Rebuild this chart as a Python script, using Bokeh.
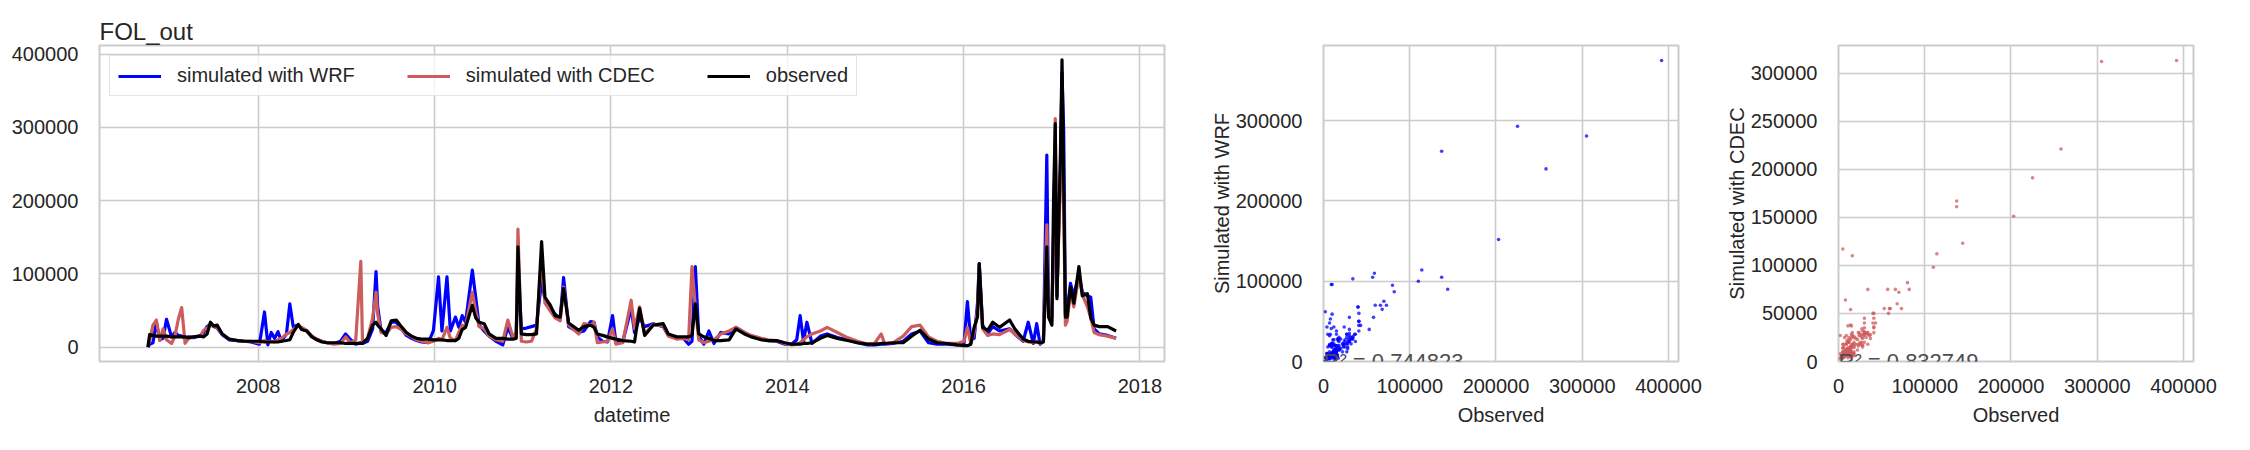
import pandas as pd
from bokeh.plotting import figure
from bokeh.layouts import row
from bokeh.models import Range1d, FixedTicker, DatetimeTickFormatter, BasicTickFormatter
from bokeh.core.properties import value
from bokeh.embed import file_html
from bokeh.resources import INLINE

FONT = "Liberation Sans"
GRID = "#cccccc"
TXT = "#262626"

# flows, in thousands (one line per water year)
dates = [
    "2006-10-01", "2006-10-08", "2006-10-22", "2006-11-05", "2006-11-19", "2006-12-03", "2006-12-17", "2007-01-07", "2007-01-21", "2007-02-04", "2007-02-18", "2007-03-04", "2007-03-18", "2007-04-08", "2007-05-06", "2007-05-20", "2007-06-03", "2007-06-17", "2007-07-01", "2007-07-15", "2007-08-05", "2007-09-02",
    "2007-10-07", "2007-11-04", "2007-12-02", "2008-01-06", "2008-01-27", "2008-02-10", "2008-02-24", "2008-03-09", "2008-03-23", "2008-04-06", "2008-04-27", "2008-05-11", "2008-05-25", "2008-06-15", "2008-06-29", "2008-07-20", "2008-08-10", "2008-08-31", "2008-09-21",
    "2008-10-12", "2008-11-09", "2008-12-07", "2008-12-28", "2009-01-18", "2009-02-08", "2009-03-01", "2009-03-08", "2009-03-29", "2009-04-19", "2009-05-03", "2009-05-10", "2009-05-24", "2009-06-14", "2009-07-05", "2009-07-26", "2009-08-16", "2009-09-06", "2009-09-27",
    "2009-10-18", "2009-11-08", "2009-12-06", "2009-12-27", "2010-01-17", "2010-01-31", "2010-02-21", "2010-03-07", "2010-03-28", "2010-04-11", "2010-04-25", "2010-05-09", "2010-06-06", "2010-06-20", "2010-07-04", "2010-07-25", "2010-08-15", "2010-09-12",
    "2010-10-10", "2010-10-31", "2010-11-21", "2010-12-05", "2010-12-12", "2010-12-26", "2011-01-16", "2011-02-06", "2011-02-27", "2011-03-20", "2011-04-03", "2011-04-24", "2011-05-15", "2011-06-05", "2011-06-19", "2011-07-10", "2011-08-21", "2011-09-11",
    "2011-10-09", "2011-10-23", "2011-11-06", "2011-11-27", "2011-12-18", "2012-01-08", "2012-01-22", "2012-02-19", "2012-03-25", "2012-04-08", "2012-04-29", "2012-05-20", "2012-06-24", "2012-08-05", "2012-08-26", "2012-09-30",
    "2012-10-28", "2012-11-18", "2012-12-02", "2012-12-16", "2012-12-30", "2013-01-20", "2013-02-10", "2013-03-03", "2013-03-31", "2013-05-05", "2013-06-02", "2013-07-07", "2013-08-04", "2013-09-15",
    "2013-10-13", "2013-11-17", "2013-12-22", "2014-01-19", "2014-02-09", "2014-02-23", "2014-03-09", "2014-03-23", "2014-04-13", "2014-05-18", "2014-06-15", "2014-07-27", "2014-09-07",
    "2014-10-19", "2014-11-30", "2014-12-28", "2015-01-25", "2015-02-08", "2015-03-15", "2015-04-26", "2015-05-31", "2015-07-05", "2015-08-09", "2015-09-13",
    "2015-10-25", "2015-12-06", "2016-01-03", "2016-01-17", "2016-01-31", "2016-02-14", "2016-02-28", "2016-03-06", "2016-03-20", "2016-04-10", "2016-05-01", "2016-05-29", "2016-07-10", "2016-07-31", "2016-09-04", "2016-09-25",
    "2016-10-16", "2016-10-30", "2016-11-13", "2016-11-27", "2016-12-11", "2016-12-18", "2017-01-01", "2017-01-08", "2017-01-15", "2017-01-22", "2017-02-05", "2017-02-12", "2017-02-19", "2017-02-26", "2017-03-05", "2017-03-19", "2017-04-02", "2017-04-23", "2017-05-07", "2017-05-28", "2017-06-11", "2017-06-25", "2017-07-16", "2017-08-20", "2017-09-24",
]
observed_k = [
    0, 17, 16, 15, 15, 15, 15, 14, 14, 14, 14, 14, 13, 14, 15, 14, 18, 34, 29, 30, 18, 11,
    9, 8, 8, 8, 7, 7, 7, 7, 7, 8, 9, 10, 20, 31, 24, 22, 14, 10, 7,
    6, 6, 6, 5, 5, 5, 5, 5, 12, 30, 34, 30, 25, 16, 36, 37, 28, 20, 15,
    12, 11, 11, 10, 10, 10, 9, 9, 9, 12, 24, 27, 57, 40, 34, 32, 18, 12,
    12, 11, 11, 12, 137, 18, 17, 17, 18, 144, 68, 58, 43, 41, 80, 33, 23, 28,
    30, 27, 18, 16, 14, 12, 11, 9, 8, 7, 53, 16, 30, 32, 18, 14,
    14, 14, 16, 59, 18, 14, 12, 9, 9, 10, 25, 18, 14, 10,
    9, 9, 6, 4, 4, 4, 5, 5, 6, 12, 16, 12, 9,
    6, 4, 4, 5, 5, 6, 6, 15, 23, 11, 6,
    5, 3, 2, 2, 4, 27, 41, 114, 27, 23, 34, 27, 37, 25, 11, 8,
    7, 7, 6, 7, 137, 41, 30, 203, 305, 66, 258, 392, 225, 41, 41, 82, 60, 110, 70, 73, 40, 30, 28, 28, 22,
]
wrf_k = [
    0, 4, 6, 34, 10, 12, 38, 14, 20, 16, 15, 12, 14, 13, 16, 20, 28, 31, 28, 26, 17, 10,
    9, 8, 7, 4, 48, 3, 20, 12, 21, 8, 18, 59, 28, 30, 25, 22, 15, 10, 8,
    6, 5, 8, 18, 10, 4, 6, 5, 8, 25, 103, 55, 22, 20, 34, 34, 25, 16, 12,
    9, 7, 6, 23, 96, 22, 96, 22, 41, 27, 43, 34, 105, 68, 30, 22, 15, 8,
    3, 27, 12, 20, 105, 25, 26, 28, 30, 90, 65, 55, 45, 38, 95, 28, 20, 22,
    35, 34, 14, 8, 7, 43, 6, 7, 53, 20, 40, 28, 32, 28, 16, 12,
    12, 4, 8, 110, 15, 4, 22, 5, 20, 18, 27, 20, 15, 11,
    9, 8, 4, 4, 10, 43, 8, 34, 5, 15, 18, 13, 10,
    6, 3, 3, 4, 4, 5, 8, 18, 22, 6, 4,
    4, 3, 5, 62, 10, 12, 60, 114, 30, 18, 28, 22, 25, 18, 8, 34,
    5, 32, 4, 8, 262, 50, 40, 152, 281, 70, 240, 375, 293, 45, 50, 87, 70, 100, 75, 70, 68, 25, 18, 16, 12,
]
cdec_k = [
    3, 8, 30, 37, 9, 25, 10, 5, 15, 38, 54, 5, 12, 14, 15, 23, 26, 30, 28, 27, 18, 11,
    9, 8, 8, 6, 9, 7, 8, 7, 10, 12, 18, 20, 24, 29, 27, 23, 15, 11, 8,
    6, 4, 5, 14, 6, 10, 117, 6, 12, 40, 75, 45, 20, 18, 27, 28, 24, 18, 14,
    10, 8, 6, 8, 12, 10, 27, 12, 9, 20, 30, 28, 75, 50, 28, 25, 15, 10,
    8, 37, 14, 20, 161, 8, 7, 8, 25, 123, 60, 50, 40, 36, 82, 30, 18, 32,
    30, 34, 6, 7, 8, 25, 4, 6, 64, 25, 55, 18, 31, 29, 15, 11,
    12, 10, 110, 55, 10, 6, 8, 10, 18, 22, 27, 20, 16, 12,
    10, 9, 5, 3, 4, 6, 10, 14, 18, 22, 27, 20, 13,
    8, 4, 5, 18, 5, 6, 15, 28, 30, 14, 8,
    5, 5, 8, 27, 5, 20, 50, 112, 25, 16, 18, 17, 24, 18, 9, 7,
    6, 8, 5, 10, 167, 45, 35, 151, 312, 75, 221, 313, 191, 30, 35, 75, 55, 98, 72, 55, 40, 20, 17, 15, 12,
]
year_ticks = [2008, 2010, 2012, 2014, 2016, 2018]
r2_labels = ["R\u00b2 = 0.744823", "R\u00b2 = 0.832749"]

assert len(dates) == len(observed_k) == len(wrf_k) == len(cdec_k)

t = pd.to_datetime(dates)
observed = [v * 1000 for v in observed_k]
wrf = [v * 1000 for v in wrf_k]
cdec = [v * 1000 for v in cdec_k]


def style(p):
    p.background_fill_color = "white"
    p.border_fill_color = "white"
    p.outline_line_color = GRID
    p.outline_line_width = 2
    for g in (p.xgrid, p.ygrid):
        g.grid_line_color = GRID
        g.grid_line_width = 1.6
    for ax in p.axis:
        ax.axis_line_color = None
        ax.major_tick_line_color = None
        ax.minor_tick_line_color = None
        ax.major_label_text_font = FONT
        ax.major_label_text_font_size = "20px"
        ax.major_label_text_color = TXT
        ax.axis_label_text_font = FONT
        ax.axis_label_text_font_size = "20px"
        ax.axis_label_text_font_style = "normal"
        ax.axis_label_text_color = TXT
    p.xaxis.major_label_standoff = 11
    p.yaxis.major_label_standoff = 15
    p.xaxis.axis_label_standoff = 8
    p.yaxis.axis_label_standoff = 0


# time series
span = t.max() - t.min()
all_vals = observed + wrf + cdec
vspan = max(all_vals) - min(all_vals)
p1 = figure(width=1193, height=431, x_axis_type="datetime", output_backend="svg",
            toolbar_location=None, min_border_left=99, min_border_right=29,
            min_border_top=45, min_border_bottom=70, title="FOL_out",
            x_range=Range1d(t.min() - 0.05 * span, t.max() + 0.05 * span),
            y_range=Range1d(min(all_vals) - 0.05 * vspan, max(all_vals) + 0.05 * vspan))
p1.line(t, wrf, line_color="#0000ff", line_width=3.2, line_join="round", legend_label="simulated with WRF")
p1.line(t, cdec, line_color="#cd5c5c", line_width=3.2, line_join="round", legend_label="simulated with CDEC")
p1.line(t, observed, line_color="black", line_width=3.2, line_join="round", legend_label="observed")
style(p1)
p1.xaxis.axis_label = "datetime"
p1.xaxis.ticker = FixedTicker(ticks=[pd.Timestamp(f"{y}-01-01").value // 10**6 for y in year_ticks])
p1.xaxis.formatter = DatetimeTickFormatter(years="%Y", months="%Y", days="%Y", hours="%Y")
p1.yaxis.ticker = FixedTicker(ticks=[0, 100000, 200000, 300000, 400000])
p1.yaxis.formatter = BasicTickFormatter(use_scientific=False)
p1.title.text_font = FONT
p1.title.text_font_size = "24px"
p1.title.text_font_style = "normal"
p1.title.text_color = TXT
p1.title.align = "left"
p1.title.standoff = 2
lg = p1.legend[0]
lg.orientation = "horizontal"
lg.location = "top_left"
lg.margin = 10
lg.padding = 8
lg.spacing = 52
lg.glyph_width = 43
lg.label_standoff = 16
lg.label_text_font = FONT
lg.label_text_font_size = "20px"
lg.label_text_color = TXT
lg.border_line_color = GRID
lg.border_line_width = 1.5
lg.background_fill_alpha = 0.8


def scatter_fig(sim, color, ylabel, yticks, r2, width, right):
    p = figure(width=width, height=431, output_backend="svg", toolbar_location=None,
               min_border_left=130, min_border_right=right, min_border_top=45, min_border_bottom=70,
               x_range=Range1d(0, max(observed) * 1.05), y_range=Range1d(0, max(sim) * 1.05))
    p.scatter(observed, sim, size=3.6, fill_color=color, fill_alpha=0.75, line_color=None)
    p.text(x=[0], y=[0], text=[r2], text_font=value(FONT), text_font_size="22px",
           text_color="#4d4d4d", text_baseline="alphabetic", text_align="left")
    style(p)
    p.xaxis.axis_label = "Observed"
    p.yaxis.axis_label = ylabel
    p.xaxis.ticker = FixedTicker(ticks=[0, 100000, 200000, 300000, 400000])
    p.yaxis.ticker = FixedTicker(ticks=yticks)
    p.xaxis.formatter = BasicTickFormatter(use_scientific=False)
    p.yaxis.formatter = BasicTickFormatter(use_scientific=False)
    return p


p2 = scatter_fig(wrf, "#0000ff", "Simulated with WRF", [0, 100000, 200000, 300000],
                 r2_labels[0], 515, 30)
p3 = scatter_fig(cdec, "#cd5c5c", "Simulated with CDEC",
                 [0, 50000, 100000, 150000, 200000, 250000, 300000], r2_labels[1], 521, 36)

layout = row(p1, p2, p3)
open("out.html", "w").write(file_html(layout, INLINE))
